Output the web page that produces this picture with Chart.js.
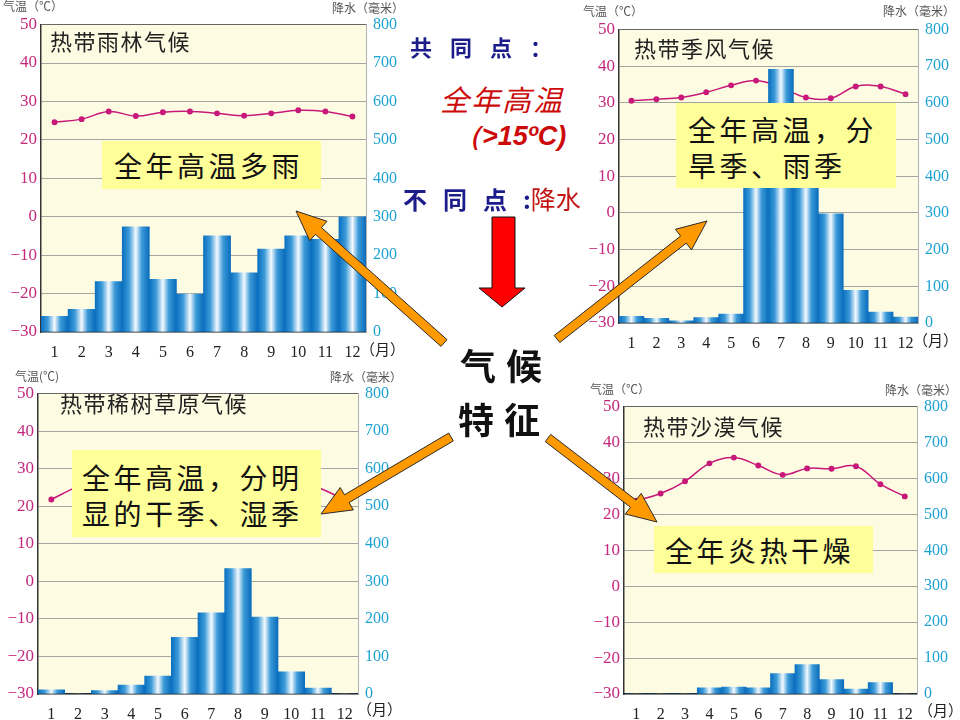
<!DOCTYPE html>
<html>
<head>
<meta charset="utf-8">
<script src="https://cdn.jsdelivr.net/npm/chart.js@4/dist/chart.umd.min.js"></script>
<style>
  body { margin: 0; background: #fff; overflow: hidden; }
  #slide { position: relative; width: 960px; height: 720px; overflow: hidden; font-family: "Noto Sans CJK SC", sans-serif; }
  canvas { position: absolute; }
  .t { position: absolute; white-space: nowrap; line-height: 1; }
  .axisname { font-size: 12px; color: #555; }
  .month { font-size: 15px; color: #222; }
  .ctitle { font-size: 22px; letter-spacing: 1.5px; color: #222; }
  .box { position: absolute; background: #ffff99; color: #111; font-size: 28px; letter-spacing: 3.5px; line-height: 36px; }
  .navy { color: #1c1c8a; }
  .red { color: #cc0a0a; }
  svg { position: absolute; left: 0; top: 0; }
</style>
</head>
<body>
<div id="slide">
  <canvas id="rainforestchart" width="406" height="360" style="left:0px;top:8px"></canvas>
  <canvas id="monsoonchart" width="379" height="346" style="left:579px;top:13px"></canvas>
  <canvas id="savannachart" width="398" height="353" style="left:0px;top:377px"></canvas>
  <canvas id="desertchart" width="373" height="340" style="left:584px;top:390px"></canvas>

  <!-- axis names -->
  <div class="t axisname" style="left:3px;top:0px">气温（℃）</div>
  <div class="t axisname" style="left:332px;top:2px">降水（毫米）</div>
  <div class="t month" style="left:360px;top:341px">（月）</div>

  <div class="t axisname" style="left:583px;top:5px">气温（℃）</div>
  <div class="t axisname" style="left:883px;top:5px">降水（毫米）</div>
  <div class="t month" style="left:913px;top:332px">（月）</div>

  <div class="t axisname" style="left:15px;top:370px">气温(℃)</div>
  <div class="t axisname" style="left:330px;top:371px">降水（毫米）</div>
  <div class="t month" style="left:357px;top:701px">（月）</div>

  <div class="t axisname" style="left:590px;top:383px">气温（℃）</div>
  <div class="t axisname" style="left:885px;top:384px">降水（毫米）</div>
  <div class="t month" style="left:918px;top:702px">（月）</div>

  <!-- chart titles -->
  <div class="t ctitle" style="left:50px;top:29px">热带雨林气候</div>
  <div class="t ctitle" style="left:634px;top:36px">热带季风气候</div>
  <div class="t ctitle" style="left:60px;top:391px">热带稀树草原气候</div>
  <div class="t ctitle" style="left:643px;top:414px">热带沙漠气候</div>

  <!-- yellow boxes -->
  <div class="box" style="left:102px;top:141px;width:219px;height:48px">
    <div style="position:absolute;left:12px;top:6px">全年高温多雨</div>
  </div>
  <div class="box" style="left:676px;top:103px;width:220px;height:85px">
    <div style="position:absolute;left:12px;top:8px">全年高温，分<br>旱季、雨季</div>
  </div>
  <div class="box" style="left:72px;top:450px;width:249px;height:87px">
    <div style="position:absolute;left:10px;top:9px">全年高温，分明<br>显的干季、湿季</div>
  </div>
  <div class="box" style="left:654px;top:526px;width:219px;height:47px">
    <div style="position:absolute;left:11px;top:6px">全年炎热干燥</div>
  </div>

  <!-- centre notes -->
  <div class="t navy" style="left:410px;top:35px;font-size:22px;letter-spacing:18px;font-weight:bold">共同点：</div>
  <div class="t red" style="left:440px;top:84px;font-size:29px;font-style:italic;letter-spacing:2px">全年高温</div>
  <div class="t red" style="left:455px;top:123px;font-size:27px;font-style:italic;font-weight:bold;font-family:'Liberation Sans',Arial,sans-serif">（&gt;15ºC)</div>
  <div class="t" style="left:403px;top:186px;font-size:24px"><span class="navy" style="letter-spacing:16px;font-weight:bold">不同点</span><span class="navy" style="font-weight:bold">:</span><span style="color:#c01515;font-size:25px">降水</span></div>
  <div class="t" style="left:460px;top:346px;font-size:36px;font-weight:bold;letter-spacing:10px;color:#111">气候</div>
  <div class="t" style="left:458px;top:400px;font-size:36px;font-weight:bold;letter-spacing:10px;color:#111">特征</div>

  <svg id="deco" width="960" height="720"></svg>
</div>

<script>
  // Setup Block
  const months = ['1', '2', '3', '4', '5', '6', '7', '8', '9', '10', '11', '12'];
  const tempRange = [-30, 50];
  const rainRange = [0, 800];

  const rainforestTemp = [24.6, 25.4, 27.4, 26.2, 27.2, 27.4, 26.9, 26.3, 26.9, 27.7, 27.4, 26.1];
  const rainforestRain = [41, 59, 131, 274, 137, 99, 250, 154, 216, 250, 241, 300];

  const monsoonTemp = [30.6, 31.0, 31.5, 32.9, 34.8, 36.1, 34.2, 31.5, 31.3, 34.5, 34.5, 32.4];
  const monsoonRain = [18, 13, 6, 15, 24, 480, 692, 450, 298, 89, 30, 16];

  const savannaTemp = [21.8, 25.3, 28, 29.5, 29.5, 28, 26.5, 26, 27, 27.5, 25, 21.8];
  const savannaRain = [11, 0, 9, 24, 48, 151, 216, 334, 205, 59, 16, 0];

  const desertTemp = [23.8, 25.8, 29.2, 34.2, 35.8, 33.6, 31.0, 32.8, 32.7, 33.4, 28.4, 25.0];
  const desertRain = [0, 0, 0, 17, 19, 17, 57, 82, 40, 14, 32, 0];

  // bars get a cylinder-like gradient, one per bar
  function barFill(ctx) {
    const chart = ctx.chart;
    const area = chart.chartArea;
    if (!area || ctx.type !== 'data') return '#1080c8';
    const w = (area.right - area.left) / months.length;
    const x = chart.scales.x.getPixelForValue(ctx.dataIndex);
    const g = chart.ctx.createLinearGradient(x - w / 2, 0, x + w / 2, 0);
    g.addColorStop(0, '#0a70c0');
    g.addColorStop(0.25, '#3c9ad8');
    g.addColorStop(0.5, '#f4faff');
    g.addColorStop(0.72, '#3c9ad8');
    g.addColorStop(1, '#0a6cbc');
    return g;
  }

  const creamBg = {
    id: 'creamBg',
    beforeDraw(chart) {
      const a = chart.chartArea;
      chart.ctx.save();
      chart.ctx.fillStyle = '#fdfce3';
      chart.ctx.fillRect(a.left, a.top, a.right - a.left, a.bottom - a.top);
      chart.ctx.restore();
    }
  };

  // Config Block
  function climateConfig(temps, rain, leftW, xH) {
    return {
      type: 'bar',
      data: {
        labels: months,
        datasets: [{
          type: 'bar',
          data: rain,
          yAxisID: 'yP',
          backgroundColor: barFill,
          borderWidth: 0,
          barPercentage: 1,
          categoryPercentage: 1,
          order: 0
        }, {
          type: 'line',
          data: temps,
          yAxisID: 'yT',
          borderColor: '#c8187a',
          backgroundColor: '#c8187a',
          borderWidth: 1.5,
          pointRadius: 2.2,
          tension: 0.4,
          order: 1
        }]
      },
      plugins: [creamBg],
      options: {
        responsive: false,
        animation: false,
        layout: { padding: { top: 12, left: 0, right: 0, bottom: 0 } },
        plugins: { legend: { display: false }, tooltip: { enabled: false } },
        scales: {
          x: {
            offset: true,
            grid: { display: false },
            border: { color: '#111', width: 1.5 },
            ticks: { color: '#222', padding: 3, font: { family: 'Liberation Serif', size: 16 } },
            afterFit: s => { s.height = xH; }
          },
          yT: {
            position: 'left',
            min: tempRange[0],
            max: tempRange[1],
            grid: {
              drawTicks: false,
              color: c => c.tick.value === tempRange[0] ? 'rgba(0,0,0,0)' : (c.tick.value === tempRange[1] ? '#666' : '#a6a6a0')
            },
            border: { color: '#333', width: 1.5 },
            ticks: {
              stepSize: 10,
              padding: 4,
              color: '#c4287c',
              font: { family: 'Liberation Serif', size: 17 },
              callback: v => String(v).replace('-', '−')
            },
            afterFit: s => { s.width = leftW; }
          },
          yP: {
            position: 'right',
            min: rainRange[0],
            max: rainRange[1],
            grid: { drawOnChartArea: false, drawTicks: false },
            border: { color: '#b0b0b0', width: 1 },
            ticks: {
              stepSize: 100,
              padding: 7,
              color: '#1ea2d2',
              font: { family: 'Liberation Serif', size: 16 }
            },
            afterFit: s => { s.width = 40; }
          }
        }
      }
    };
  }

  // Render Block
  const rainforestchart = new Chart(document.getElementById('rainforestchart'), climateConfig(rainforestTemp, rainforestRain, 41, 36));
  const monsoonchart = new Chart(document.getElementById('monsoonchart'), climateConfig(monsoonTemp, monsoonRain, 40, 36));
  const savannachart = new Chart(document.getElementById('savannachart'), climateConfig(savannaTemp, savannaRain, 38, 36));
  const desertchart = new Chart(document.getElementById('desertchart'), climateConfig(desertTemp, desertRain, 40, 36));

  // slide arrows
  const svg = document.getElementById('deco');
  function arrowPoly(x1, y1, x2, y2, shaft, head, headLen) {
    const dx = x2 - x1, dy = y2 - y1, len = Math.hypot(dx, dy);
    const ux = dx / len, uy = dy / len, nx = -uy, ny = ux;
    const bx = x2 - ux * headLen, by = y2 - uy * headLen;
    const p = [
      [x1 + nx * shaft / 2, y1 + ny * shaft / 2],
      [bx + nx * shaft / 2, by + ny * shaft / 2],
      [bx + nx * head / 2, by + ny * head / 2],
      [x2, y2],
      [bx - nx * head / 2, by - ny * head / 2],
      [bx - nx * shaft / 2, by - ny * shaft / 2],
      [x1 - nx * shaft / 2, y1 - ny * shaft / 2]
    ];
    return p.map(q => q[0].toFixed(1) + ',' + q[1].toFixed(1)).join(' ');
  }
  const orangeArrows = [[444, 343, 296, 211], [557, 339, 707, 221], [451, 437, 321, 514], [548, 438, 657, 522]];
  let html = '';
  orangeArrows.forEach(a => {
    html += '<polygon points="' + arrowPoly(a[0], a[1], a[2], a[3], 9, 26, 30) + '" fill="#ff9900" stroke="#2a2a2a" stroke-width="1"/>';
  });
  html += '<polygon points="492,217 515,217 515,288 525,288 502,307 479,288 492,288" fill="#ff0000" stroke="#111" stroke-width="1"/>';
  svg.innerHTML = html;
</script>
</body>
</html>
